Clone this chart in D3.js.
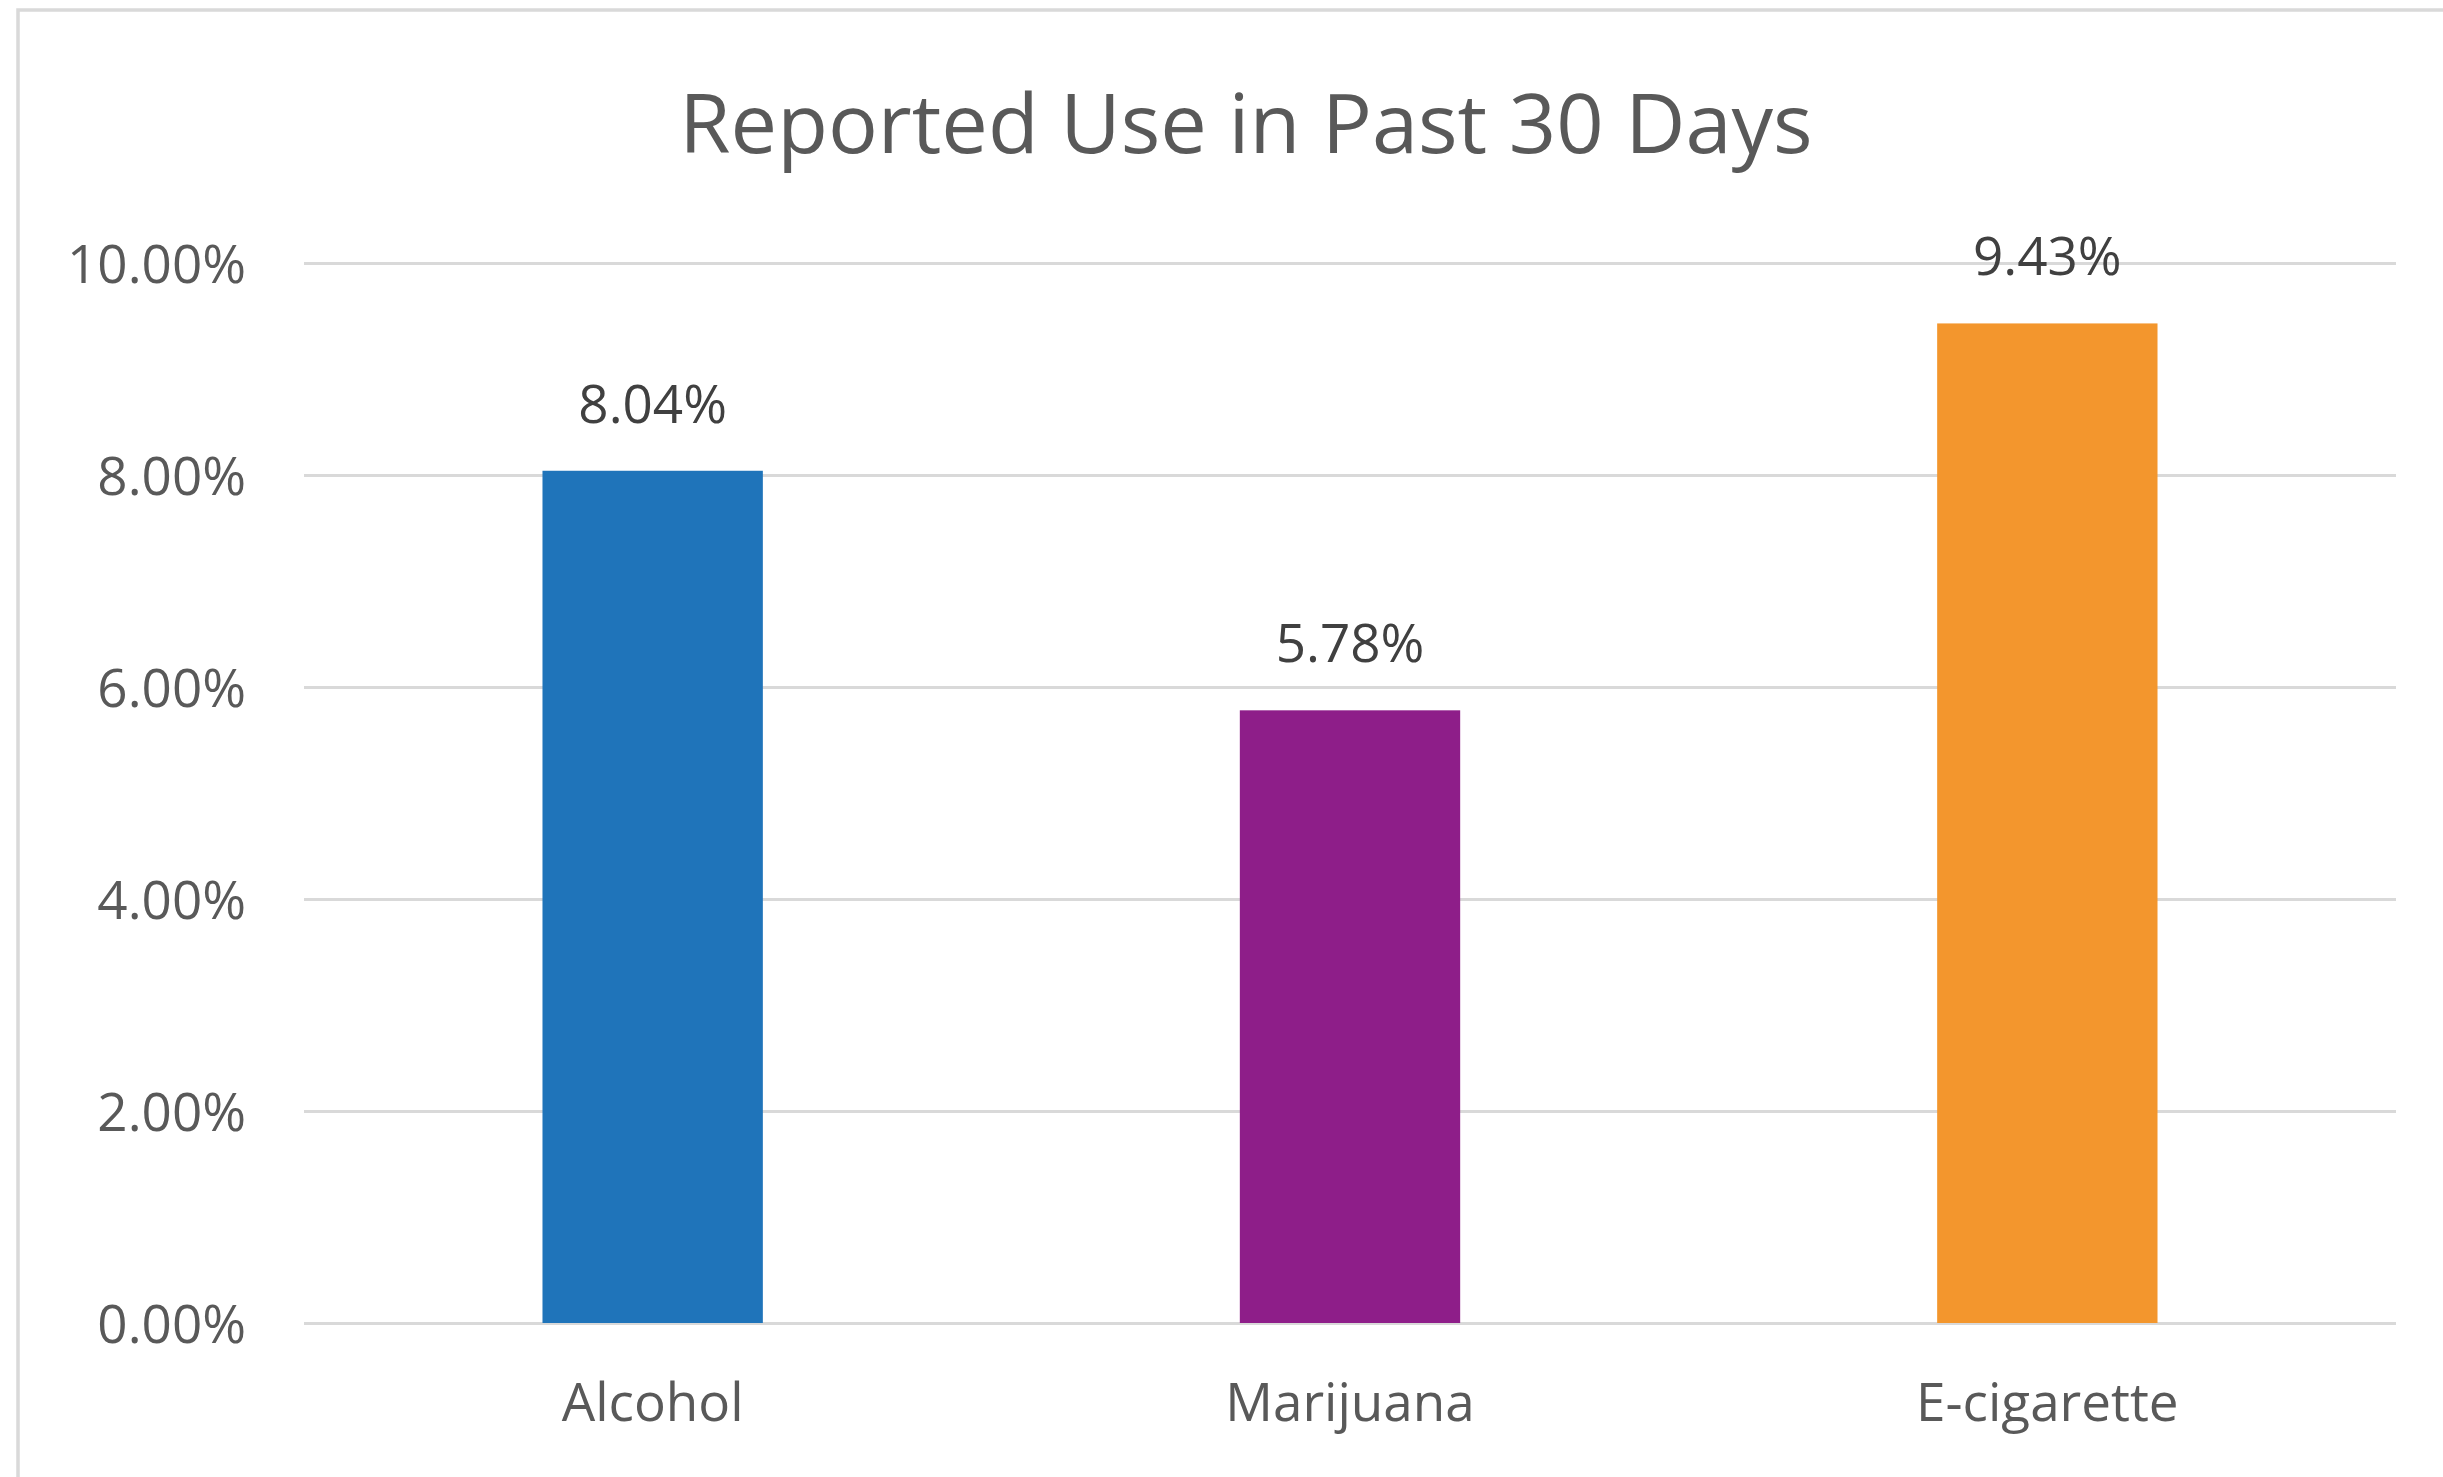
<!DOCTYPE html>
<html>
<head>
<meta charset="utf-8">
<script src="https://cdn.jsdelivr.net/npm/d3@7"></script>
<style>
  body { margin: 0; background: #ffffff; }
  svg { display: block; }
</style>
</head>
<body>
<svg class="chart"></svg>
<script>
// chart data
var categories = ['Alcohol', 'Marijuana', 'E-cigarette'];
var values = [0.0804, 0.0578, 0.0943];
var barColors = ['#1f74ba', '#8e1e89', '#f3962d'];
var yTicks = [0, 0.02, 0.04, 0.06, 0.08, 0.10];
var title = 'Reported Use in Past 30 Days';

var w = 2443; var h = 1477;
var font = '"Open Sans", "Noto Sans", sans-serif';

var svg = d3.select('.chart')
    .attr('width', w)
    .attr('height', h);

// outer frame of the chart area (right and bottom edges run off the page)
svg.append('rect')
    .attr('x', 18)
    .attr('y', 10)
    .attr('width', 2600)
    .attr('height', 1600)
    .attr('fill', 'none')
    .attr('stroke', '#d9d9d9')
    .attr('stroke-width', 3.5);

var xscale = d3.scaleBand()
    .domain(categories)
    .range([304, 2396])
    .padding(0);

var yscale = d3.scaleLinear()
    .domain([0, 0.10])
    .range([1323, 263]);

// gridlines + tick labels
var yAxis = d3.axisLeft(yscale)
    .tickValues(yTicks)
    .tickFormat(d3.format('.2%'))
    .tickSize(-(2396 - 304))
    .tickPadding(58);

var gy = svg.append('g')
    .attr('transform', 'translate(304,0)')
    .call(yAxis);

gy.select('.domain').remove();
gy.selectAll('.tick line')
    .attr('stroke', '#d9d9d9')
    .attr('stroke-width', 3);
gy.selectAll('.tick text')
    .attr('font-family', font)
    .attr('font-size', '53px')
    .attr('fill', '#595959')
    .attr('dy', '0.36em');

// bars
var barW = xscale.bandwidth() * 0.316;

svg.selectAll('rect.bar')
    .data(values)
    .enter()
    .append('rect')
    .attr('class', 'bar')
    .attr('x', (d, i) => xscale(categories[i]) + xscale.bandwidth() / 2 - barW / 2)
    .attr('y', d => yscale(d))
    .attr('width', barW)
    .attr('height', d => yscale(0) - yscale(d))
    .attr('fill', (d, i) => barColors[i]);

// value labels
svg.selectAll('text.val')
    .data(values)
    .enter()
    .append('text')
    .attr('class', 'val')
    .text(d => d3.format('.2%')(d))
    .attr('x', (d, i) => xscale(categories[i]) + xscale.bandwidth() / 2)
    .attr('y', d => yscale(d) - 48)
    .attr('text-anchor', 'middle')
    .attr('font-family', font)
    .attr('font-size', '53px')
    .attr('fill', '#404040');

// category labels
svg.selectAll('text.cat')
    .data(categories)
    .enter()
    .append('text')
    .attr('class', 'cat')
    .text(d => d)
    .attr('x', d => xscale(d) + xscale.bandwidth() / 2)
    .attr('y', 1421)
    .attr('text-anchor', 'middle')
    .attr('font-family', font)
    .attr('font-size', '53px')
    .attr('fill', '#595959');

// title
svg.append('text')
    .text(title)
    .attr('x', 1246)
    .attr('y', 153)
    .attr('text-anchor', 'middle')
    .attr('font-family', font)
    .attr('font-size', '83px')
    .attr('fill', '#595959');
</script>
</body>
</html>
